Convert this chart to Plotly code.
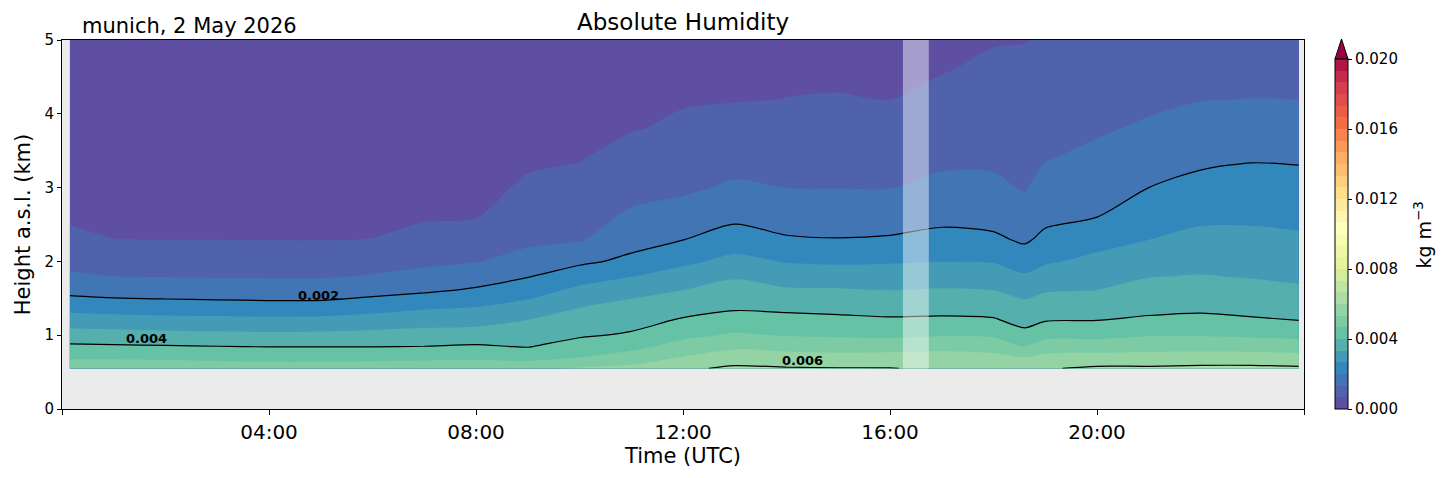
import numpy as np
import plotly.graph_objects as go
from plotly.colors import sample_colorscale

# time of each profile (hours UTC) and retrieval heights (km a.s.l.)
times = [0.15, 1, 2, 3, 4, 5, 6, 7, 8, 9, 10, 11, 12, 13, 14, 15, 16, 17,
         18, 18.6, 19, 20, 21, 22, 23, 23.9]
heights = [0.55, 0.7, 0.85, 1.0, 1.2, 1.4, 1.6, 1.8, 2.0, 2.3, 2.6, 3.0,
           3.4, 3.8, 4.2, 4.6, 5.0]

# absolute humidity profiles in g m-3, one list per time, bottom to top
profiles = [
    [5.00, 4.60, 4.10, 3.64, 3.00, 2.36, 1.83, 1.42, 1.14, 0.77, 0.61, 0.50, 0.47, 0.44, 0.41, 0.38, 0.36],
    [5.00, 4.60, 4.07, 3.59, 2.95, 2.28, 1.75, 1.33, 1.07, 0.67, 0.60, 0.50, 0.47, 0.44, 0.41, 0.38, 0.36],
    [5.00, 4.56, 4.04, 3.53, 2.89, 2.23, 1.72, 1.31, 1.03, 0.66, 0.59, 0.50, 0.47, 0.44, 0.41, 0.38, 0.36],
    [4.95, 4.53, 4.00, 3.50, 2.86, 2.20, 1.70, 1.29, 1.01, 0.66, 0.59, 0.50, 0.47, 0.44, 0.41, 0.38, 0.36],
    [4.95, 4.49, 3.97, 3.47, 2.83, 2.17, 1.68, 1.28, 0.99, 0.65, 0.59, 0.50, 0.47, 0.44, 0.41, 0.38, 0.36],
    [4.95, 4.49, 3.97, 3.49, 2.86, 2.18, 1.68, 1.28, 0.99, 0.65, 0.59, 0.50, 0.47, 0.44, 0.41, 0.38, 0.36],
    [5.00, 4.49, 3.97, 3.54, 2.96, 2.33, 1.79, 1.37, 1.08, 0.67, 0.61, 0.52, 0.48, 0.45, 0.42, 0.39, 0.37],
    [5.00, 4.53, 4.00, 3.60, 3.07, 2.51, 1.92, 1.53, 1.20, 0.82, 0.62, 0.55, 0.50, 0.47, 0.44, 0.41, 0.38],
    [5.10, 4.54, 4.06, 3.64, 3.11, 2.62, 2.10, 1.69, 1.31, 0.96, 0.65, 0.58, 0.53, 0.49, 0.46, 0.43, 0.40],
    [5.20, 4.41, 3.96, 3.70, 3.35, 2.86, 2.40, 1.96, 1.56, 1.20, 0.99, 0.71, 0.62, 0.56, 0.52, 0.48, 0.45],
    [5.40, 4.67, 4.27, 3.92, 3.61, 3.29, 2.84, 2.37, 1.87, 1.27, 1.09, 0.84, 0.64, 0.58, 0.53, 0.49, 0.46],
    [5.50, 4.98, 4.46, 4.08, 3.77, 3.50, 3.14, 2.64, 2.15, 1.75, 1.44, 1.13, 0.86, 0.64, 0.59, 0.55, 0.51],
    [5.90, 5.37, 4.91, 4.51, 4.07, 3.70, 3.35, 2.94, 2.53, 1.98, 1.61, 1.23, 0.98, 0.74, 0.63, 0.58, 0.54],
    [6.10, 5.70, 5.19, 4.75, 4.26, 3.87, 3.58, 3.27, 2.85, 2.30, 1.86, 1.42, 1.12, 0.86, 0.64, 0.60, 0.56],
    [6.05, 5.61, 5.08, 4.63, 4.21, 3.81, 3.43, 3.03, 2.63, 2.06, 1.73, 1.33, 1.11, 0.89, 0.67, 0.62, 0.58],
    [6.03, 5.54, 5.03, 4.58, 4.15, 3.77, 3.41, 2.99, 2.57, 2.02, 1.71, 1.32, 1.10, 0.89, 0.68, 0.62, 0.58],
    [6.02, 5.58, 5.04, 4.55, 4.09, 3.71, 3.35, 2.98, 2.61, 2.06, 1.72, 1.32, 1.09, 0.86, 0.66, 0.62, 0.58],
    [5.90, 5.56, 5.15, 4.62, 4.12, 3.74, 3.40, 3.03, 2.65, 2.19, 1.84, 1.48, 1.21, 1.00, 0.80, 0.64, 0.61],
    [5.90, 5.51, 5.05, 4.57, 4.07, 3.70, 3.35, 2.99, 2.63, 2.11, 1.79, 1.45, 1.23, 1.07, 0.91, 0.75, 0.64],
    [5.80, 5.33, 4.64, 4.20, 3.80, 3.49, 3.14, 2.74, 2.37, 1.90, 1.60, 1.29, 1.16, 1.03, 0.91, 0.78, 0.65],
    [5.95, 5.51, 4.98, 4.48, 3.97, 3.63, 3.30, 2.94, 2.59, 2.15, 1.85, 1.56, 1.30, 1.15, 1.01, 0.86, 0.72],
    [6.10, 5.58, 4.98, 4.49, 4.00, 3.67, 3.35, 3.09, 2.83, 2.43, 2.00, 1.74, 1.48, 1.26, 1.11, 0.95, 0.80],
    [6.10, 5.58, 5.08, 4.62, 4.10, 3.80, 3.56, 3.31, 3.05, 2.66, 2.38, 2.00, 1.71, 1.42, 1.21, 1.03, 0.85],
    [6.15, 5.61, 5.08, 4.62, 4.16, 3.84, 3.60, 3.36, 3.15, 2.84, 2.55, 2.19, 1.87, 1.59, 1.31, 1.11, 0.90],
    [6.15, 5.61, 5.05, 4.57, 4.07, 3.78, 3.53, 3.29, 3.10, 2.82, 2.57, 2.26, 1.95, 1.64, 1.34, 1.12, 0.90],
    [6.10, 5.56, 4.98, 4.49, 4.00, 3.72, 3.44, 3.22, 3.04, 2.76, 2.52, 2.22, 1.93, 1.63, 1.33, 1.12, 0.90],
]

tick_hours = [4, 8, 12, 16, 20]
tick_labels = ["04:00", "08:00", "12:00", "16:00", "20:00"]
cbar_ticks = [0.0, 0.004, 0.008, 0.012, 0.016, 0.020]
gap_start, gap_end = 16.25, 16.75

# contour labels as they appear in the picture: text, hour, height
line_labels = ["0.002", "0.004", "0.006"]
label_hours = [4.95, 1.64, 14.3]
label_heights = [1.54, 0.95, 0.66]

z = np.array(profiles).T * 1e-3  # kg m-3

spectral_r = [
    [0.0, "#5e4fa2"], [0.1, "#3288bd"], [0.2, "#66c2a5"], [0.3, "#abdda4"],
    [0.4, "#e6f598"], [0.5, "#ffffbf"], [0.6, "#fee08b"], [0.7, "#fdae61"],
    [0.8, "#f46d43"], [0.9, "#d53e4f"], [1.0, "#9e0142"],
]
# 30 discrete bands, each coloured like its lower level (as in the original)
n_bands = 30
band_cols = sample_colorscale(spectral_r, [i / n_bands for i in range(n_bands)])
step_scale = []
for i, c in enumerate(band_cols):
    step_scale.append([i / n_bands, c])
    step_scale.append([(i + 1) / n_bands, c])

fig = go.Figure()

# filled contours, 30 levels
fig.add_trace(go.Contour(
    x=times, y=heights, z=z,
    colorscale=step_scale,
    zmin=0, zmax=0.02,
    contours=dict(start=0, end=0.02, size=0.02 / n_bands, coloring="fill", showlines=False),
    line=dict(width=0, smoothing=0.8),
    colorbar=dict(
        x=(1335 - 62) / 1242, xanchor="left", xpad=0,
        y=0, yanchor="bottom", ypad=0,
        lenmode="pixels", len=350, thickness=13,
        outlinecolor="black", outlinewidth=1,
        tickvals=cbar_ticks, ticktext=[f"{v:.3f}" for v in cbar_ticks],
        ticks="outside", ticklen=4, tickcolor="black",
        tickfont=dict(size=15, color="black"),
    ),
    hoverinfo="skip",
))

# black contour lines at 0.002, 0.004, 0.006
fig.add_trace(go.Contour(
    x=times, y=heights, z=z,
    contours=dict(start=0.002, end=0.006, size=0.002, coloring="none", showlabels=False),
    line=dict(color="black", width=1.2, smoothing=0.8),
    showscale=False, hoverinfo="skip",
))

for txt, hx, hy in zip(line_labels, label_hours, label_heights):
    fig.add_annotation(text=f"<b>{txt}</b>", x=hx, y=hy, xref="x", yref="y",
                       showarrow=False, font=dict(size=13, color="black"))

fig.add_shape(type="rect", x0=gap_start, x1=gap_end, y0=heights[0], y1=heights[-1],
              xref="x", yref="y", fillcolor="white", opacity=0.45,
              line=dict(width=0), layer="above")

# colorbar extension triangle
px0, px1 = (1335 - 62) / 1242, (1348 - 62) / 1242
fig.add_shape(type="path", xref="paper", yref="paper",
              path=f"M {px0} {350/369} L {(px0+px1)/2} {370/369} L {px1} {350/369} Z",
              fillcolor="#9e0142", line=dict(color="black", width=1))

fig.add_annotation(text="kg m<sup>\u22123</sup>", x=(1423 - 62) / 1242, y=0.47,
                   xref="paper", yref="paper", xanchor="center", yanchor="middle",
                   textangle=-90, showarrow=False,
                   font=dict(size=19, color="black"))
fig.add_annotation(text="Absolute Humidity", x=0.5, y=1, xref="paper", yref="paper",
                   xanchor="center", yanchor="bottom", yshift=3, showarrow=False,
                   font=dict(size=23, color="black"))
fig.add_annotation(text="munich, 2 May 2026", x=(80 - 62) / 1242, y=1, xref="paper",
                   yref="paper", xanchor="left", yanchor="bottom", yshift=0,
                   showarrow=False, font=dict(size=21, color="black"))

# page body has an 8px margin, so the figure is 8px smaller and margins shifted
fig.update_layout(
    width=1446, height=470,
    margin=dict(l=54, r=150, t=32, b=69),
    paper_bgcolor="white", plot_bgcolor="#ebebeb",
    font=dict(family="DejaVu Sans", color="black"),
    showlegend=False,
)
fig.update_xaxes(
    range=[0, 24], tickvals=tick_hours, ticktext=tick_labels,
    ticks="outside", ticklen=5, tickcolor="black", tickfont=dict(size=20),
    minor=dict(tickvals=[0, 24], ticks="outside", ticklen=5, tickcolor="black"),
    showline=True, linecolor="black", linewidth=1, mirror=True,
    showgrid=False, zeroline=False,
    title=dict(text="Time (UTC)", font=dict(size=21), standoff=5),
)
fig.update_yaxes(
    range=[0, 5], tickvals=[0, 1, 2, 3, 4, 5],
    ticks="outside", ticklen=4, tickcolor="black", tickfont=dict(size=15),
    showline=True, linecolor="black", linewidth=1, mirror=True,
    showgrid=False, zeroline=False,
    title=dict(text="Height a.s.l. (km)", font=dict(size=21), standoff=8),
)

fig.write_html("out.html")
